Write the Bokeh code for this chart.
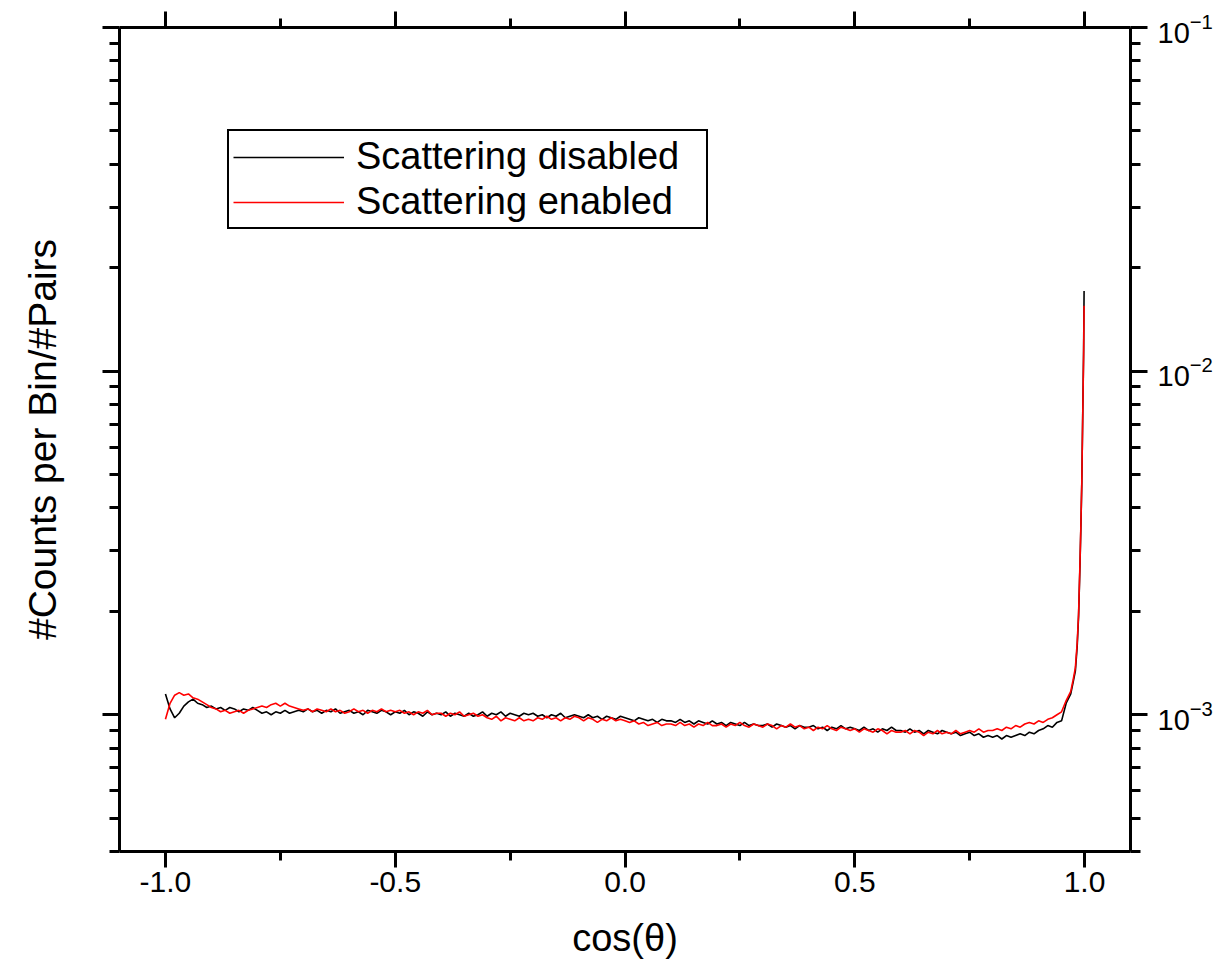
import numpy as np
from bokeh.plotting import figure
from bokeh.models import (LinearAxis, LogAxis, FixedTicker, Range1d, Legend, LegendItem,
                          NumeralTickFormatter, LogTickFormatter, CustomJSTickFormatter)
from bokeh.embed import file_html
from bokeh.resources import INLINE

FONT = "Liberation Sans"

# ---------------- data (values in units of 1e-3) ----------------
x_grid = [round(v, 2) for v in np.arange(-1.00, 0.955, 0.01)]
x_tail = [0.96, 0.97, 0.975, 0.98, 0.984, 0.987, 0.99, 0.992, 0.994, 0.996, 0.998, 0.999]
cos_theta = x_grid + x_tail

disabled_milli = [
    1.15, 1.04, 0.98, 1.01, 1.06, 1.09, 1.11, 1.08, 1.07, 1.05,
    1.06, 1.04, 1.05, 1.03, 1.05, 1.04, 1.02, 1.04, 1.03, 1.05,
    1.03, 1.01, 1.02, 1.00, 1.02, 1.01, 1.03, 1.01, 1.02, 1.03,
    1.02, 1.04, 1.02, 1.03, 1.01, 1.03, 1.02, 1.04, 1.01, 1.02,
    1.03, 1.01, 1.02, 1.00, 1.03, 1.02, 1.01, 1.03, 1.02, 1.00,
    1.02, 1.01, 1.03, 1.00, 1.02, 1.01, 0.99, 1.02, 1.00, 1.01,
    1.00, 1.02, 0.99, 1.01, 1.00, 0.99, 1.01, 0.99, 1.00, 1.02,
    0.99, 1.01, 1.00, 1.02, 0.99, 1.01, 1.00, 0.99, 1.01, 1.00,
    1.01, 0.99, 1.00, 0.98, 1.00, 0.99, 1.01, 0.98, 0.99, 1.00,
    0.99, 0.98, 1.00, 0.98, 0.99, 0.97, 0.99, 0.98, 0.97, 0.99,
    0.98, 0.97, 0.96, 0.98, 0.97, 0.96, 0.97, 0.95, 0.97, 0.96,
    0.96, 0.95, 0.97, 0.95, 0.96, 0.94, 0.96, 0.95, 0.94, 0.96,
    0.94, 0.95, 0.93, 0.95, 0.94, 0.93, 0.95, 0.93, 0.94, 0.93,
    0.93, 0.94, 0.92, 0.94, 0.93, 0.92, 0.93, 0.91, 0.93, 0.92,
    0.92, 0.93, 0.91, 0.92, 0.90, 0.92, 0.91, 0.93, 0.91, 0.92,
    0.91, 0.90, 0.92, 0.90, 0.91, 0.89, 0.91, 0.90, 0.92, 0.90,
    0.90, 0.89, 0.91, 0.89, 0.90, 0.88, 0.90, 0.89, 0.88, 0.90,
    0.89, 0.88, 0.89, 0.87, 0.88, 0.89, 0.87, 0.88, 0.86, 0.87,
    0.86, 0.87, 0.85, 0.87, 0.86, 0.87, 0.88, 0.87, 0.89, 0.88,
    0.90, 0.91, 0.93, 0.92, 0.95, 0.96,
    1.08, 1.15, 1.24, 1.34, 1.58, 1.93, 2.70, 3.50, 4.70, 7.40, 11.5, 17.1,
]

enabled_milli = [
    0.97, 1.08, 1.14, 1.16, 1.14, 1.15, 1.12, 1.11, 1.09, 1.07,
    1.05, 1.04, 1.02, 1.03, 1.01, 1.02, 1.03, 1.01, 1.03, 1.04,
    1.05, 1.06, 1.05, 1.07, 1.08, 1.06, 1.08, 1.06, 1.05, 1.04,
    1.03, 1.04, 1.02, 1.04, 1.03, 1.02, 1.04, 1.02, 1.03, 1.01,
    1.02, 1.04, 1.02, 1.03, 1.01, 1.03, 1.02, 1.04, 1.02, 1.03,
    1.02, 1.03, 1.01, 1.02, 1.00, 1.02, 1.01, 1.03, 1.00, 1.01,
    1.01, 0.99, 1.01, 1.00, 1.02, 0.99, 1.00, 1.01, 0.99, 1.00,
    0.98, 0.97, 0.99, 0.96, 0.98, 0.97, 0.96, 0.98, 0.96, 0.97,
    0.96, 0.98, 0.97, 0.99, 0.97, 0.98, 0.96, 0.98, 0.97, 0.99,
    0.98, 0.96, 0.98, 0.97, 0.95, 0.97, 0.96, 0.98, 0.96, 0.97,
    0.96, 0.95, 0.96, 0.94, 0.95, 0.93, 0.94, 0.95, 0.93, 0.94,
    0.94, 0.93, 0.95, 0.93, 0.94, 0.92, 0.94, 0.93, 0.95, 0.93,
    0.93, 0.94, 0.92, 0.94, 0.93, 0.95, 0.93, 0.92, 0.94, 0.93,
    0.92, 0.94, 0.93, 0.91, 0.93, 0.92, 0.94, 0.92, 0.93, 0.91,
    0.92, 0.90, 0.92, 0.91, 0.93, 0.91, 0.90, 0.92, 0.91, 0.90,
    0.91, 0.89, 0.91, 0.90, 0.89, 0.91, 0.90, 0.88, 0.90, 0.89,
    0.89, 0.90, 0.88, 0.90, 0.89, 0.87, 0.89, 0.88, 0.90, 0.88,
    0.89, 0.88, 0.90, 0.88, 0.89, 0.90, 0.89, 0.91, 0.89, 0.90,
    0.90, 0.91, 0.90, 0.92, 0.91, 0.93, 0.92, 0.94, 0.95, 0.94,
    0.96, 0.95, 0.97, 0.98, 1.00, 1.02,
    1.10, 1.17, 1.26, 1.37, 1.62, 1.96, 2.75, 3.55, 4.75, 7.30, 11.2, 15.5,
]

series_names = ["Scattering disabled", "Scattering enabled"]
series_colors = ["#000000", "#ff0000"]

x_major = [-1.0, -0.5, 0.0, 0.5, 1.0]
x_minor = [-0.75, -0.25, 0.25, 0.75]
y_major = [1e-3, 1e-2, 1e-1]
y_minor = [m * d for d in (1e-4, 1e-3, 1e-2) for m in range(2, 10)]

disabled = [v * 1e-3 for v in disabled_milli]
enabled = [v * 1e-3 for v in enabled_milli]

# ---------------- figure ----------------
p = figure(width=1215, height=973, x_range=Range1d(-1.1, 1.1), y_range=Range1d(4e-4, 1e-1),
           y_axis_type="log", output_backend="svg", toolbar_location=None,
           min_border_left=119, min_border_right=83, min_border_top=27, min_border_bottom=122,
           background_fill_color="white", border_fill_color="white")
p.outline_line_color = None
p.grid.visible = False

r1 = p.line(cos_theta, disabled, line_color=series_colors[0], line_width=1.6)
r2 = p.line(cos_theta, enabled, line_color=series_colors[1], line_width=1.6)

xt = FixedTicker(ticks=x_major, minor_ticks=x_minor)
yt = FixedTicker(ticks=y_major, minor_ticks=y_minor)
blank = CustomJSTickFormatter(code="return ''")


def style(ax, major_out=16, minor_out=9):
    ax.axis_line_width = 3
    ax.axis_line_color = "black"
    ax.major_tick_line_width = 3
    ax.minor_tick_line_width = 3
    ax.major_tick_line_color = "black"
    ax.minor_tick_line_color = "black"
    ax.major_tick_in = 0
    ax.minor_tick_in = 0
    ax.major_tick_out = major_out
    ax.minor_tick_out = minor_out
    ax.major_label_text_font = FONT
    ax.major_label_text_color = "black"
    ax.axis_label_text_font = FONT
    ax.axis_label_text_font_style = "normal"
    ax.axis_label_text_color = "black"


# bottom axis
bx = p.xaxis[0]
bx.ticker = xt
bx.formatter = NumeralTickFormatter(format="0.0")
style(bx)
bx.major_label_text_font_size = "30px"
bx.major_label_standoff = 4
bx.axis_label = "cos(θ)"
bx.axis_label_text_font_size = "38px"
bx.axis_label_standoff = 22

# left axis
ly = p.yaxis[0]
ly.ticker = yt
ly.formatter = blank
style(ly, major_out=17, minor_out=10)
ly.major_label_text_font_size = "12px"
ly.major_label_standoff = 0
ly.axis_label = "#Counts per Bin/#Pairs"
ly.axis_label_text_font_size = "39px"
ly.axis_label_standoff = 39

# top axis
tx = LinearAxis(ticker=xt, formatter=blank)
style(tx)
tx.major_label_text_font_size = "12px"
tx.major_label_standoff = 0
p.add_layout(tx, "above")

# right axis
ry = LogAxis(ticker=yt, formatter=LogTickFormatter())
style(ry, major_out=17, minor_out=10)
ry.major_label_text_font_size = "29px"
ry.major_label_standoff = 10
p.add_layout(ry, "right")

legend = Legend(items=[LegendItem(label=series_names[0], renderers=[r1]),
                       LegendItem(label=series_names[1], renderers=[r2])],
                location=(108, 622))
legend.label_text_font = FONT
legend.label_text_font_size = "38px"
legend.label_text_color = "black"
legend.border_line_color = "black"
legend.border_line_alpha = 1.0
legend.border_line_width = 2
legend.background_fill_color = "white"
legend.background_fill_alpha = 1.0
legend.padding = 4
legend.spacing = 2
legend.margin = 0
legend.label_height = 34
legend.glyph_height = 34
legend.glyph_width = 111
legend.label_standoff = 12
legend.label_width = 346
p.add_layout(legend, "center")

open("out.html", "w").write(file_html(p, INLINE))
